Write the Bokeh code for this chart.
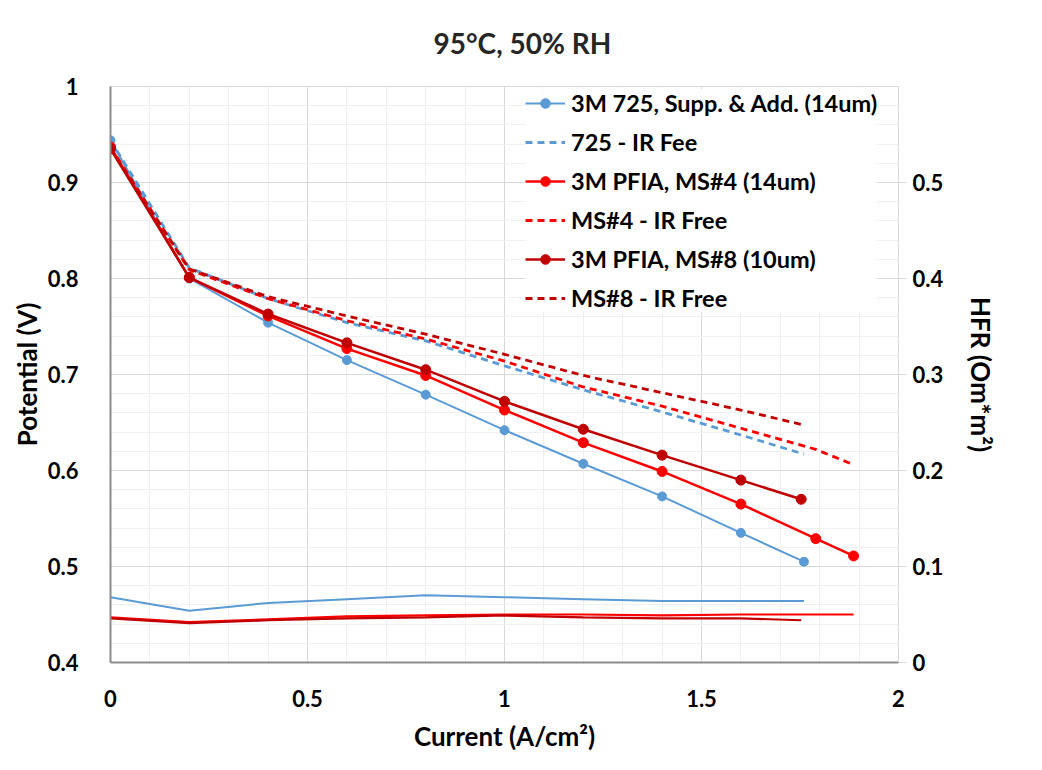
from bokeh.plotting import figure
from bokeh.models import (Range1d, LinearAxis, SingleIntervalTicker, CustomJSTickFormatter,
                          Legend, LegendItem, Title)
from bokeh.embed import file_html
from bokeh.resources import INLINE

# ---------------- data ----------------
x_725 = [0, 0.2, 0.4, 0.6, 0.8, 1.0, 1.2, 1.4, 1.6, 1.76]
v_725 = [0.944, 0.800, 0.754, 0.715, 0.679, 0.642, 0.607, 0.573, 0.535, 0.505]
irfree_725 = [0.944, 0.811, 0.779, 0.754, 0.735, 0.709, 0.684, 0.661, 0.637, 0.617]
hfr_725 = [0.068, 0.054, 0.062, 0.066, 0.070, 0.068, 0.066, 0.064, 0.064, 0.064]

x_ms4 = [0, 0.2, 0.4, 0.6, 0.8, 1.0, 1.2, 1.4, 1.6, 1.79, 1.886]
v_ms4 = [0.937, 0.801, 0.761, 0.727, 0.699, 0.663, 0.629, 0.599, 0.565, 0.529, 0.511]
irfree_ms4 = [0.937, 0.809, 0.779, 0.756, 0.737, 0.714, 0.687, 0.667, 0.644, 0.622, 0.606]
hfr_ms4 = [0.047, 0.042, 0.045, 0.048, 0.049, 0.050, 0.050, 0.049, 0.050, 0.050, 0.050]

x_ms8 = [0, 0.2, 0.4, 0.6, 0.8, 1.0, 1.2, 1.4, 1.6, 1.753]
v_ms8 = [0.935, 0.801, 0.763, 0.733, 0.705, 0.672, 0.643, 0.616, 0.590, 0.570]
irfree_ms8 = [0.935, 0.810, 0.781, 0.761, 0.742, 0.721, 0.699, 0.681, 0.663, 0.648]
hfr_ms8 = [0.046, 0.041, 0.044, 0.046, 0.047, 0.049, 0.047, 0.046, 0.046, 0.044]

labels = ["3M 725, Supp. & Add. (14um)", "725 - IR Fee",
          "3M PFIA, MS#4 (14um)", "MS#4 - IR Free",
          "3M PFIA, MS#8 (10um)", "MS#8 - IR Free"]

title_text = "95°C, 50% RH"
xlabel = "Current (A/cm²)"
ylabel = "Potential (V)"
y2label = "HFR (Om*m²)"

# ---------------- styling ----------------
FONT = "Lato"
BLUE = "#5B9BD5"
RED = "#FF0000"
DRED = "#C00000"

p = figure(width=1026, height=754, output_backend="svg", toolbar_location=None,
           x_range=Range1d(0, 2), y_range=Range1d(0.4, 1.0),
           min_border_left=110, min_border_right=128, min_border_top=84, min_border_bottom=90)
p.extra_y_ranges = {"hfr": Range1d(0, 0.6)}
p.outline_line_color = "#d9d9d9"
p.background_fill_color = "white"
p.border_fill_color = "white"

fmt = CustomJSTickFormatter(code="return tick.toFixed(1).replace(/\\.0$/, '');")

p.title = Title(text=title_text, align="left", vertical_align="top", text_font=FONT,
                text_font_size="28px", text_font_style="bold", text_color="#262626",
                offset=323, standoff=50)

p.xaxis.ticker = SingleIntervalTicker(interval=0.5, num_minor_ticks=5)
p.yaxis.ticker = SingleIntervalTicker(interval=0.1, num_minor_ticks=5)
for ax in (p.xaxis[0], p.yaxis[0]):
    ax.formatter = fmt
    ax.major_tick_line_color = None
    ax.minor_tick_line_color = None
    ax.axis_line_color = "#8c8c8c"
    ax.axis_line_width = 2
    ax.major_label_text_font = FONT
    ax.major_label_text_font_size = "22px"
    ax.major_label_text_font_style = "bold"
    ax.major_label_text_color = "#000000"
    ax.axis_label_text_font = FONT
    ax.axis_label_text_font_size = "26px"
    ax.axis_label_text_font_style = "bold"
    ax.axis_label_text_color = "#000000"

p.xaxis.axis_label = xlabel
p.xaxis.major_label_standoff = 21
p.xaxis.axis_label_standoff = 10
p.yaxis.axis_label = ylabel
p.yaxis.major_label_standoff = 26
p.yaxis.axis_label_standoff = 2

y2 = LinearAxis(y_range_name="hfr", axis_label=y2label,
                ticker=SingleIntervalTicker(interval=0.1, num_minor_ticks=5),
                formatter=fmt)
y2.axis_line_color = None
y2.major_tick_line_color = "#d9d9d9"
y2.major_tick_in = 0
y2.major_tick_out = 8
y2.minor_tick_line_color = None
y2.major_label_text_font = FONT
y2.major_label_text_font_size = "22px"
y2.major_label_text_font_style = "bold"
y2.major_label_text_color = "#000000"
y2.major_label_standoff = 6
y2.axis_label_text_font = FONT
y2.axis_label_text_font_size = "26px"
y2.axis_label_text_font_style = "bold"
y2.axis_label_text_color = "#000000"
y2.axis_label_standoff = 19
p.add_layout(y2, "right")

for g in (p.xgrid[0], p.ygrid[0]):
    g.grid_line_color = "#d9d9d9"
    g.grid_line_width = 1
    g.minor_grid_line_color = "#f0f0f0"
    g.minor_grid_line_width = 1

# ---------------- HFR lines (secondary axis) ----------------
p.line(x_725, hfr_725, y_range_name="hfr", line_color=BLUE, line_width=2)
p.line(x_ms4, hfr_ms4, y_range_name="hfr", line_color=RED, line_width=2.2)
p.line(x_ms8, hfr_ms8, y_range_name="hfr", line_color=DRED, line_width=2.2)

# ---------------- potential curves ----------------
r1l = p.line(x_725, v_725, line_color=BLUE, line_width=2)
r1m = p.scatter(x_725, v_725, size=9, marker="circle", fill_color=BLUE, line_color=BLUE)
r2 = p.line(x_725, irfree_725, line_color=BLUE, line_width=2.8, line_dash="7 5")

r3l = p.line(x_ms4, v_ms4, line_color=RED, line_width=2.5)
r3m = p.scatter(x_ms4, v_ms4, size=10, marker="circle", fill_color=RED, line_color=RED)
r4 = p.line(x_ms4, irfree_ms4, line_color=RED, line_width=2.8, line_dash="7 5")

r5l = p.line(x_ms8, v_ms8, line_color=DRED, line_width=2.5)
r5m = p.scatter(x_ms8, v_ms8, size=10, marker="circle", fill_color=DRED, line_color=DRED)
r6 = p.line(x_ms8, irfree_ms8, line_color=DRED, line_width=2.8, line_dash="7 5")

legend = Legend(items=[
    LegendItem(label=labels[0], renderers=[r1l, r1m]),
    LegendItem(label=labels[1], renderers=[r2]),
    LegendItem(label=labels[2], renderers=[r3l, r3m]),
    LegendItem(label=labels[3], renderers=[r4]),
    LegendItem(label=labels[4], renderers=[r5l, r5m]),
    LegendItem(label=labels[5], renderers=[r6]),
], location=(415, 350))
legend.background_fill_color = "white"
legend.background_fill_alpha = 1.0
legend.border_line_color = None
legend.label_text_font = FONT
legend.label_text_font_size = "23.5px"
legend.label_text_font_style = "bold"
legend.label_text_color = "#000000"
legend.glyph_width = 40
legend.glyph_height = 24
legend.label_height = 24
legend.spacing = 11
legend.padding = 5
legend.margin = 0
legend.label_standoff = 6
p.add_layout(legend, "center")

open("out.html", "w").write(file_html(p, INLINE))
